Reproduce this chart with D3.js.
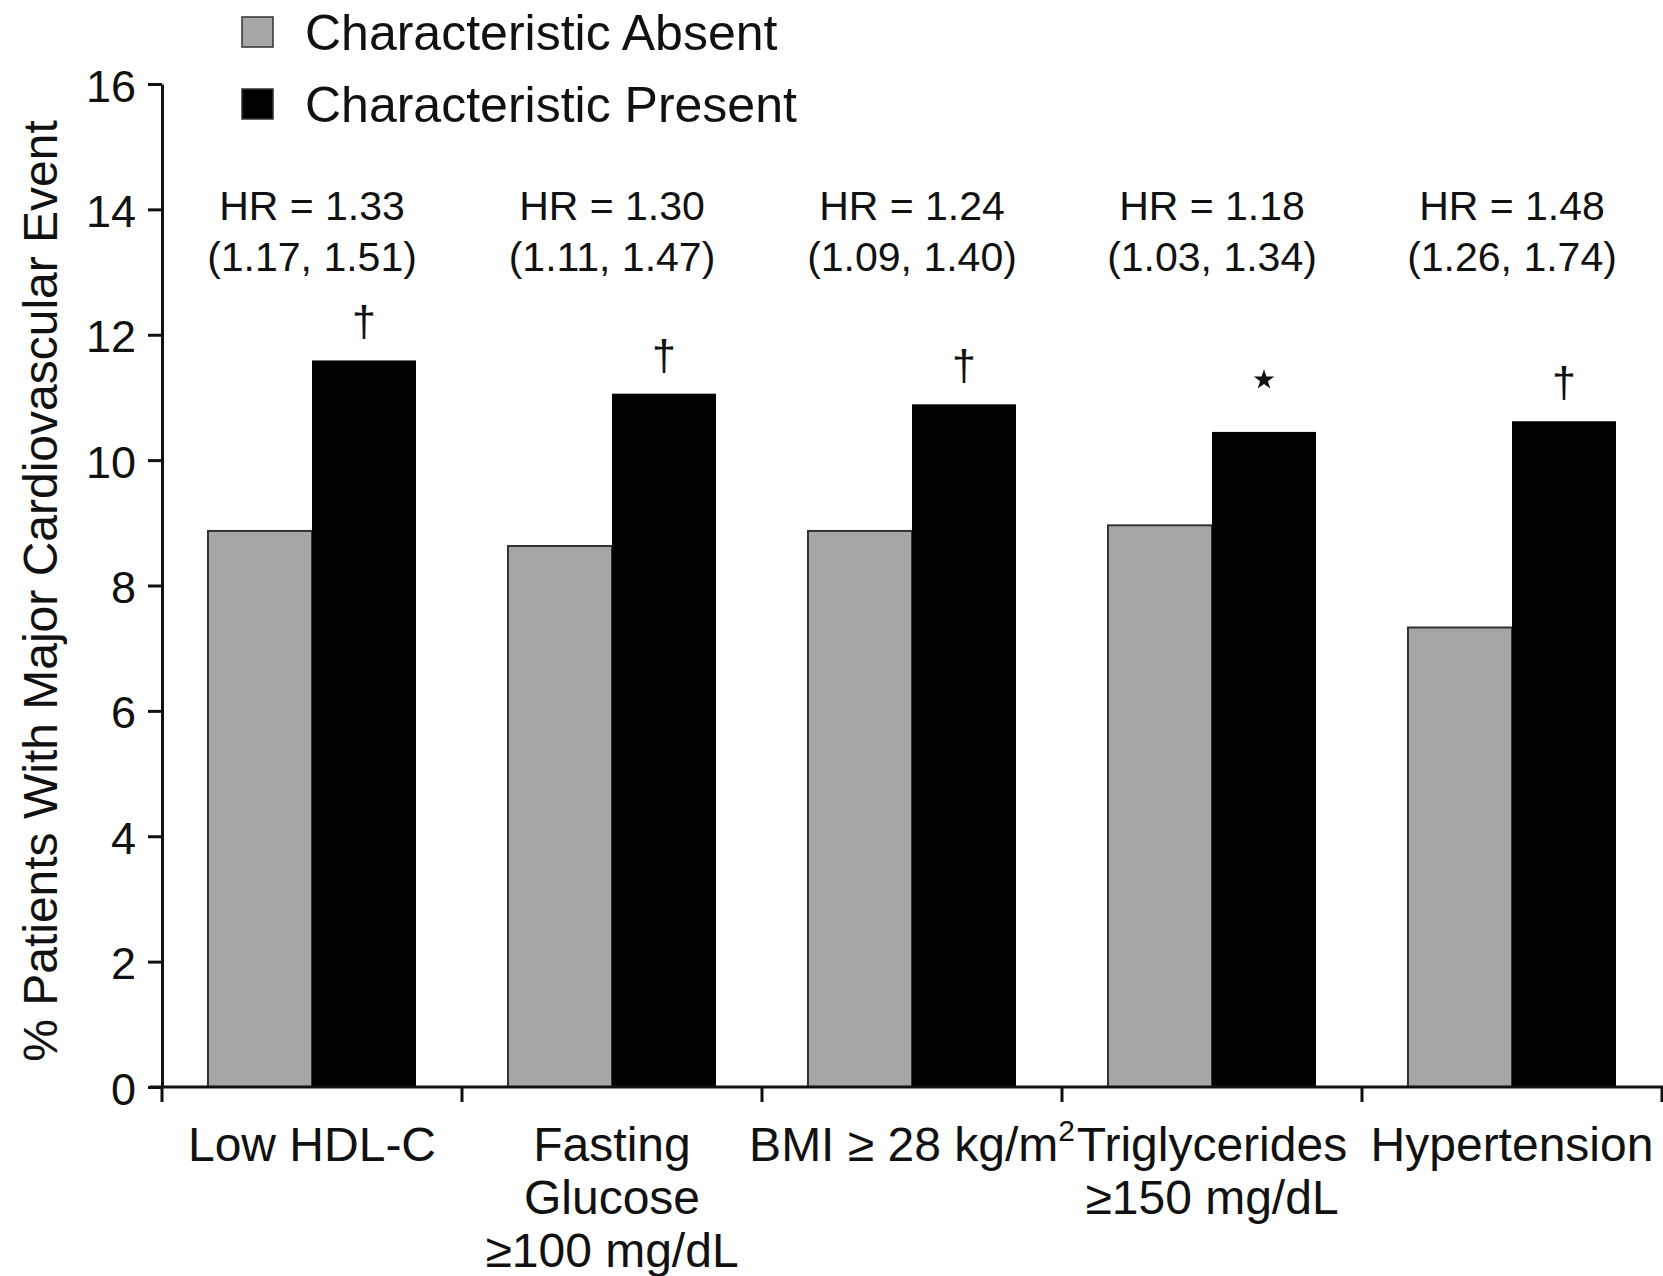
<!DOCTYPE html>
<html>
<head>
<meta charset="utf-8">
<script src="https://cdn.jsdelivr.net/npm/d3@7"></script>
<style>
	body { margin: 0; background: #fff; }
	svg text { font-family: "Liberation Sans", Arial, Helvetica, sans-serif; fill: #111; }
</style>
</head>
<body>
<svg id="chart" width="1663" height="1276"></svg>
<script>
// values
var categories = ['Low HDL-C', 'Fasting Glucose', 'BMI', 'Triglycerides', 'Hypertension'];
var seriesNames = ['Characteristic Absent', 'Characteristic Present'];
var absentValues = [8.87, 8.63, 8.87, 8.96, 7.33];
var presentValues = [11.59, 11.06, 10.89, 10.45, 10.62];
var hrLabels = ['HR = 1.33', 'HR = 1.30', 'HR = 1.24', 'HR = 1.18', 'HR = 1.48'];
var ciLabels = ['(1.17, 1.51)', '(1.11, 1.47)', '(1.09, 1.40)', '(1.03, 1.34)', '(1.26, 1.74)'];
var markers = ['dagger', 'dagger', 'dagger', 'star', 'dagger'];
var yTicks = [0, 2, 4, 6, 8, 10, 12, 14, 16];
var yTitle = '% Patients With Major Cardiovascular Event';
var seriesColors = ['#a6a6a6', '#000000'];

var svg = d3.select('#chart');

var x0 = d3.scaleBand()
		.domain(categories)
		.range([162, 1662]);
var x1 = d3.scaleBand()
		.domain(seriesNames)
		.range([46, 254]);
var y = d3.scaleLinear()
		.domain([0, 16])
		.range([1087, 84]);

// y axis
var yAxis = svg.append('g')
		.attr('transform', 'translate(162,0)')
		.call(d3.axisLeft(y).tickValues(yTicks).tickSize(14).tickPadding(12).tickSizeOuter(0));
yAxis.select('.domain').attr('stroke', '#111').attr('stroke-width', 3);
yAxis.selectAll('.tick line').attr('stroke', '#111').attr('stroke-width', 3);
yAxis.selectAll('.tick text')
		.attr('font-size', 45)
		.attr('dy', '0.38em')
		.style('font-family', '"Liberation Sans", Arial, sans-serif')
		.attr('fill', '#111');

// bars
var groups = svg.append('g').selectAll('g')
		.data(categories)
		.enter().append('g')
				.attr('transform', function(d){ return 'translate(' + x0(d) + ',0)'; });

groups.append('rect')
		.attr('x', function(){ return x1(seriesNames[0]); })
		.attr('width', x1.bandwidth())
		.attr('y', function(d, i){ return y(absentValues[i]); })
		.attr('height', function(d, i){ return y(0) - y(absentValues[i]); })
		.attr('fill', seriesColors[0])
		.attr('stroke', '#333')
		.attr('stroke-width', 2);

groups.append('rect')
		.attr('x', function(){ return x1(seriesNames[1]); })
		.attr('width', x1.bandwidth())
		.attr('y', function(d, i){ return y(presentValues[i]); })
		.attr('height', function(d, i){ return y(0) - y(presentValues[i]); })
		.attr('fill', seriesColors[1]);

// significance markers above the "present" bars
groups.each(function(d, i){
	var g = d3.select(this);
	var cx = x1(seriesNames[1]) + x1.bandwidth() / 2;
	var top = y(presentValues[i]);
	if(markers[i] === 'star'){
		g.append('path')
				.attr('d', d3.symbol().type(d3.symbolStar).size(130)())
				.attr('transform', 'translate(' + cx + ',' + (top - 52) + ')')
				.attr('fill', '#111');
	} else {
		g.append('text')
				.attr('x', cx)
				.attr('y', top - 24)
				.attr('text-anchor', 'middle')
				.attr('font-size', 43)
				.text('\u2020');
	}
});

// hazard ratio labels, centred on the bar pair
groups.append('text')
		.attr('x', 150)
		.attr('y', 220)
		.attr('text-anchor', 'middle')
		.attr('font-size', 41)
		.text(function(d, i){ return hrLabels[i]; });
groups.append('text')
		.attr('x', 150)
		.attr('y', 271)
		.attr('text-anchor', 'middle')
		.attr('font-size', 41)
		.text(function(d, i){ return ciLabels[i]; });

// x axis line with ticks on category boundaries
svg.append('line')
		.attr('x1', 150).attr('x2', 1663)
		.attr('y1', y(0)).attr('y2', y(0))
		.attr('stroke', '#111').attr('stroke-width', 3);
var bounds = categories.map(function(c){ return x0(c); }).concat([x0.range()[1]]);
svg.append('g').selectAll('line')
		.data(bounds)
		.enter().append('line')
				.attr('x1', function(d){ return d; })
				.attr('x2', function(d){ return d; })
				.attr('y1', y(0))
				.attr('y2', y(0) + 15)
				.attr('stroke', '#111')
				.attr('stroke-width', 3);

// category labels
var catLines = [
	[['Low HDL-C']],
	[['Fasting'], ['Glucose'], ['\u2265100 mg/dL']],
	[['BMI \u2265 28 kg/m', '2']],
	[['Triglycerides'], ['\u2265150 mg/dL']],
	[['Hypertension']]
];
groups.each(function(d, i){
	var t = d3.select(this).append('text')
			.attr('text-anchor', 'middle')
			.attr('font-size', 48)
			.attr('y', 1161);
	catLines[i].forEach(function(line, j){
		t.append('tspan')
				.attr('x', 150)
				.attr('dy', j === 0 ? 0 : 53)
				.text(line[0]);
		if(line[1]){
			t.append('tspan')
					.attr('font-size', 30)
					.attr('dy', -20)
					.text(line[1]);
		}
	});
});

// y axis title
svg.append('text')
		.attr('transform', 'translate(57,591) rotate(-90)')
		.attr('text-anchor', 'middle')
		.attr('font-size', 48)
		.text(yTitle);

// legend
var legend = svg.append('g').selectAll('g')
		.data(seriesNames)
		.enter().append('g')
				.attr('transform', function(d, i){ return 'translate(242,' + (17 + i * 72) + ')'; });
legend.append('rect')
		.attr('width', 31)
		.attr('height', 30)
		.attr('fill', function(d, i){ return seriesColors[i]; })
		.attr('stroke', '#333')
		.attr('stroke-width', 1.5);
legend.append('text')
		.attr('x', 63)
		.attr('y', 33)
		.attr('font-size', 50)
		.text(function(d){ return d; });
</script>
</body>
</html>
